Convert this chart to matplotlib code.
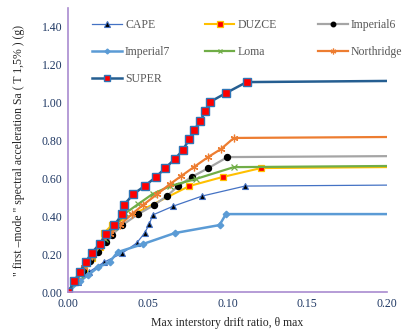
import matplotlib.pyplot as plt

# Curvas de pushover (IDA) - deriva máxima vs. aceleração espectral
cape_x = [0, 0.006, 0.013, 0.0225, 0.034, 0.043, 0.048, 0.051, 0.053, 0.066, 0.084, 0.111, 0.2]
cape_y = [0, 0.053, 0.106, 0.158, 0.206, 0.259, 0.312, 0.359, 0.407, 0.454, 0.507, 0.560, 0.565]

duzce_x = [0, 0.005, 0.010, 0.015, 0.020, 0.0225, 0.0275, 0.076, 0.097, 0.121, 0.2]
duzce_y = [0, 0.060, 0.120, 0.180, 0.240, 0.312, 0.354, 0.560, 0.608, 0.655, 0.660]

imp6_x = [0, 0.005, 0.0094, 0.0138, 0.019, 0.024, 0.0275, 0.034, 0.044, 0.054, 0.062, 0.069, 0.0775, 0.088, 0.100, 0.2]
imp6_y = [0, 0.058, 0.111, 0.164, 0.211, 0.264, 0.301, 0.354, 0.412, 0.460, 0.507, 0.560, 0.608, 0.655, 0.713, 0.718]

imp7_x = [0, 0.0075, 0.0125, 0.019, 0.026, 0.031, 0.047, 0.067, 0.095, 0.099, 0.2]
imp7_y = [0, 0.058, 0.090, 0.132, 0.158, 0.211, 0.254, 0.312, 0.354, 0.412, 0.412]

loma_x = [0, 0.0075, 0.015, 0.023, 0.029, 0.036, 0.044, 0.053, 0.064, 0.080, 0.104, 0.2]
loma_y = [0, 0.090, 0.185, 0.280, 0.343, 0.417, 0.465, 0.518, 0.560, 0.597, 0.660, 0.666]

north_x = [0, 0.005, 0.010, 0.015, 0.020, 0.026, 0.0325, 0.040, 0.047, 0.056, 0.064, 0.071, 0.079, 0.088, 0.096, 0.104, 0.2]
north_y = [0, 0.069, 0.132, 0.190, 0.248, 0.306, 0.354, 0.412, 0.460, 0.518, 0.571, 0.613, 0.661, 0.714, 0.756, 0.814, 0.819]

super_x = [0, 0.004, 0.0075, 0.011, 0.015, 0.020, 0.024, 0.029, 0.034, 0.035, 0.041, 0.048, 0.055, 0.061,
           0.067, 0.072, 0.076, 0.079, 0.083, 0.086, 0.089, 0.099, 0.112, 0.2]
super_y = [0, 0.058, 0.108, 0.158, 0.209, 0.256, 0.306, 0.354, 0.412, 0.460, 0.518, 0.560, 0.607, 0.655,
           0.703, 0.750, 0.808, 0.856, 0.903, 0.956, 1.004, 1.051, 1.109, 1.115]

plt.rcParams['font.family'] = ['Liberation Serif', 'DejaVu Serif']

fig = plt.figure(figsize=(4.03, 3.35), dpi=100)
ax = fig.add_axes([0.169, 0.128, 0.791, 0.848])

# o último ponto de cada série (0.20) fica sem marcador
def sem_ultimo(xs):
    return list(range(len(xs) - 1))

cape, = ax.plot(cape_x, cape_y, color='#4472C4', lw=0.9, marker='^', ms=5,
                mfc='black', mec='#4472C4', mew=0.8, markevery=sem_ultimo(cape_x), label='CAPE')
duzce, = ax.plot(duzce_x, duzce_y, color='#FFC000', lw=1.5, marker='s', ms=5,
                 mfc='#FF0000', mec='#FFC000', mew=0.9, markevery=sem_ultimo(duzce_x), label='DUZCE')
imp6, = ax.plot(imp6_x, imp6_y, color='#A5A5A5', lw=1.6, marker='o', ms=4.3,
                mfc='black', mec='black', markevery=sem_ultimo(imp6_x), label='Imperial6')
imp7, = ax.plot(imp7_x, imp7_y, color='#5B9BD5', lw=1.8, marker='D', ms=3.3,
                mfc='#5B9BD5', mec='#5B9BD5', markevery=sem_ultimo(imp7_x), label='Imperial7')
loma, = ax.plot(loma_x, loma_y, color='#70AD47', lw=1.6, marker='x', ms=4.5,
                mfc='#70AD47', mec='#70AD47', mew=0.9, markevery=sem_ultimo(loma_x), label='Loma')
north, = ax.plot(north_x, north_y, color='#ED7D31', lw=1.6, marker=(6, 2, 0), ms=5.5,
                 mec='#ED7D31', mew=0.9, markevery=sem_ultimo(north_x), label='Northridge')
sup, = ax.plot(super_x, super_y, color='#255E91', lw=1.8, marker='s', ms=5.5,
               mfc='#FF0000', mec='#2E75B6', mew=1.0, markevery=sem_ultimo(super_x), label='SUPER')

ax.set_xlim(0, 0.2)
ax.set_ylim(0, 1.5)
ax.set_xticks([0, 0.05, 0.10, 0.15, 0.20])
ax.set_xticklabels(['0.00', '0.05', '0.10', '0.15', '0.20'])
ax.set_yticks([0, 0.2, 0.4, 0.6, 0.8, 1.0, 1.2, 1.4])
ax.set_yticklabels(['0.00', '0.20', '0.40', '0.60', '0.80', '1.00', '1.20', '1.40'])
ax.tick_params(length=0, labelsize=8.5, labelcolor='#1F3864', pad=4)

for lado in ['top', 'right']:
    ax.spines[lado].set_visible(False)
for lado in ['left', 'bottom']:
    ax.spines[lado].set_color('#A98BCF')
    ax.spines[lado].set_linewidth(1.2)

ax.set_xlabel('Max interstory drift ratio, θ max', fontsize=8.5, color='#262626', labelpad=5)
ax.set_ylabel('" first –mode " spectral acceleration Sa ( T 1,5% ) (g)', fontsize=8.5,
              color='#262626', labelpad=12)

# legenda em 3 colunas de largura fixa (uma legenda por coluna)
colunas = [[cape, imp7, sup], [duzce, loma], [imp6, north]]
pos_x = [0.075, 0.429, 0.784]
for i, (handles, x0) in enumerate(zip(colunas, pos_x)):
    leg = ax.legend(handles=handles, loc='upper left', bbox_to_anchor=(x0, 0.96),
                    frameon=False, fontsize=8.5, labelcolor='#595959', borderpad=0,
                    borderaxespad=0, handlelength=2.5, labelspacing=1.25, handletextpad=0.3,
                    markerscale=0.75)
    if i < len(colunas) - 1:
        ax.add_artist(leg)

fig.savefig('out.png', dpi=100)
